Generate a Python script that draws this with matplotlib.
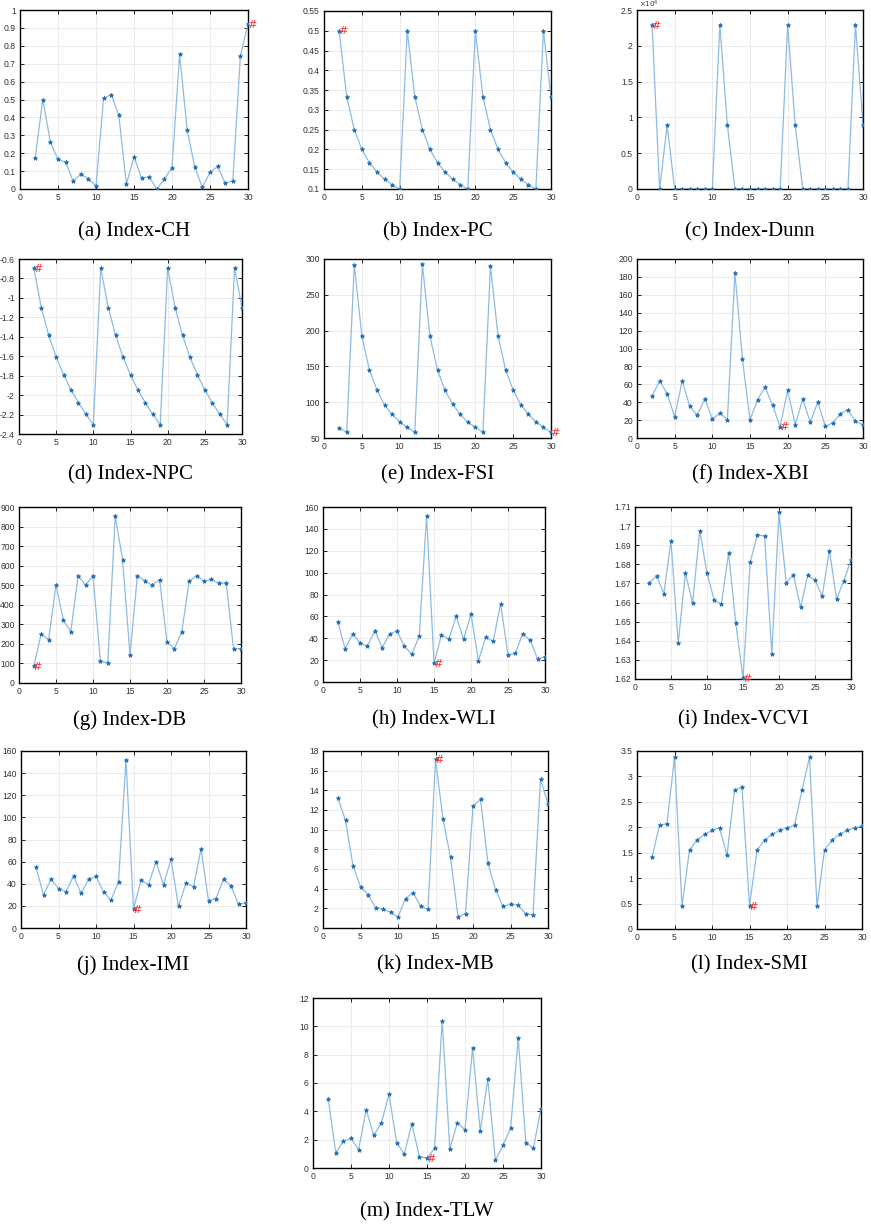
import numpy as np
import matplotlib.pyplot as plt

# number of clusters (x axis)
k = list(range(2, 31))

ch = [0.175, 0.50, 0.26, 0.165, 0.15, 0.045, 0.083, 0.057, 0.017, 0.507, 0.527, 0.414, 0.027, 0.18,
      0.061, 0.068, 0.0, 0.057, 0.119, 0.753, 0.329, 0.121, 0.009, 0.093, 0.126, 0.033, 0.045, 0.744, 0.922]
pc = [0.5, 0.3333, 0.25, 0.2, 0.1667, 0.1429, 0.125, 0.1111, 0.1,
      0.5, 0.3333, 0.25, 0.2, 0.1667, 0.1429, 0.125, 0.1111, 0.1,
      0.5, 0.3333, 0.25, 0.2, 0.1667, 0.1429, 0.125, 0.1111, 0.1,
      0.5, 0.3333]
dunn = [22900, 0, 8900, 0, 0, 0, 0, 0, 0, 22900, 8900, 0, 0, 0, 0, 0, 0, 0,
        22900, 8900, 0, 0, 0, 0, 0, 0, 0, 22900, 8900]
npc = [-0.693, -1.099, -1.386, -1.609, -1.792, -1.946, -2.079, -2.197, -2.303,
       -0.693, -1.099, -1.386, -1.609, -1.792, -1.946, -2.079, -2.197, -2.303,
       -0.693, -1.099, -1.386, -1.609, -1.792, -1.946, -2.079, -2.197, -2.303,
       -0.693, -1.099]
fsi = [64, 58, 292, 193, 145, 117, 96, 83, 72.5, 65, 58, 293, 192, 145, 116.5, 97.5, 83, 72, 65, 58,
       290, 192.5, 145, 117, 96.5, 83.5, 72.5, 65, 58]
xbi = [46.9, 63.7, 49.5, 23.8, 64, 35.4, 25.3, 44, 21.2, 27.9, 20.5, 184.4, 87.9, 20.1, 42.8, 57, 36.5,
       12.7, 53.3, 14.9, 43.2, 17.5, 40.2, 13, 17.1, 27.2, 31.7, 18.6, 14.9]
db = [87, 251, 221, 500, 320, 263, 549, 500, 549, 111, 104, 852, 630, 144, 549, 522, 500, 529, 210, 175,
      263, 520, 549, 520, 530, 510, 510, 173, 176]
wli = [55, 30, 44, 35.7, 32.9, 46.9, 31.4, 43.9, 46.6, 32.6, 25.3, 41.8, 152, 17, 43, 39.3, 60, 39,
       62.2, 19.5, 40.8, 37.2, 71.6, 24.7, 26.5, 44.2, 38.1, 21.3, 22.9]
vcvi = [1.6704, 1.6738, 1.6647, 1.6921, 1.6387, 1.6753, 1.6599, 1.6977, 1.6753, 1.6613, 1.6592, 1.6860,
        1.6491, 1.6205, 1.6811, 1.6955, 1.6948, 1.6331, 1.7072, 1.6704, 1.6745, 1.6575, 1.6743, 1.6717,
        1.6634, 1.6872, 1.6618, 1.6713, 1.6822]
imi = [54.7, 30, 44, 35.7, 32.9, 46.9, 31.4, 43.9, 46.6, 32.6, 25.3, 41.8, 152, 17, 43, 39.3, 60, 39,
       62.2, 19.5, 40.8, 37.2, 71.6, 24.7, 26.5, 44.2, 38.1, 21.3, 22.9]
mb = [13.18, 10.97, 6.32, 4.21, 3.40, 2.07, 1.94, 1.60, 1.12, 2.99, 3.60, 2.24, 1.90, 17.15, 11.11, 7.17,
      1.15, 1.46, 12.40, 13.08, 6.59, 3.91, 2.21, 2.41, 2.34, 1.46, 1.32, 15.12, 12.64]
smi = [1.41, 2.04, 2.07, 3.38, 0.45, 1.55, 1.75, 1.86, 1.94, 1.99, 1.45, 2.73, 2.79, 0.45, 1.55, 1.75,
       1.86, 1.94, 1.99, 2.04, 2.73, 3.38, 0.45, 1.55, 1.75, 1.86, 1.94, 1.99, 2.02]
tlw = [4.87, 1.06, 1.9, 2.1, 1.3, 4.1, 2.3, 3.2, 5.2, 1.8, 1.0, 3.1, 0.8, 0.7, 1.4, 10.4, 1.35, 3.2,
       2.7, 8.5, 2.6, 6.3, 0.55, 1.6, 2.8, 9.2, 1.8, 1.4, 4.2]

captions = ["(a) Index-CH", "(b) Index-PC", "(c) Index-Dunn", "(d) Index-NPC", "(e) Index-FSI",
            "(f) Index-XBI", "(g) Index-DB", "(h) Index-WLI", "(i) Index-VCVI", "(j) Index-IMI",
            "(k) Index-MB", "(l) Index-SMI", "(m) Index-TLW"]
series = [ch, pc, dunn, npc, fsi, xbi, db, wli, vcvi, imi, mb, smi, tlw]
best_k = [30, 2, 2, 2, 30, 19, 2, 15, 15, 15, 15, 15, 15]
ylims = [(0, 1), (0.1, 0.55), (0, 25000), (-2.4, -0.6), (50, 300), (0, 200), (0, 900), (0, 160),
         (1.62, 1.71), (0, 160), (0, 18), (0, 3.5), (0, 12)]
ysteps = [0.1, 0.05, 5000, 0.2, 50, 20, 100, 20, 0.01, 20, 2, 0.5, 2]

# axes boxes in pixels: left, top, right, bottom
boxes = [(20, 10, 248, 189), (324, 11, 551, 189), (637, 10, 863, 189),
         (19, 259, 242, 434), (324, 259, 551, 438), (637, 259, 863, 438),
         (19, 507, 241, 683), (323, 507, 545, 682), (635, 507, 851, 679),
         (21, 751, 246, 928), (323, 751, 548, 928), (637, 751, 862, 929),
         (313, 998, 541, 1168)]
cap_y = [232, 232, 232, 475, 475, 475, 720, 720, 720, 965, 965, 965, 1212]

W, H = 871, 1224
fig = plt.figure(figsize=(W / 100, H / 100), dpi=100)

for i in range(13):
    l, t, r, b = boxes[i]
    ax = fig.add_axes([l / W, 1 - b / H, (r - l) / W, (b - t) / H])
    y = series[i]
    ax.plot(k, y, "-", color="#8dbbe3", lw=0.9, zorder=2)
    ax.plot(k, y, "*", color="#1f6fb8", ms=3.2, mew=0.6, zorder=3)
    yb = y[k.index(best_k[i])]
    ax.annotate("#", (best_k[i], yb), xytext=(2.5, -0.5), textcoords="offset points",
                ha="center", va="center", color="#ff2a2a", fontsize=8, zorder=4)
    ax.set_xlim(0, 30)
    ax.set_xticks(range(0, 31, 5))
    lo, hi = ylims[i]
    ax.set_ylim(lo, hi)
    ax.set_yticks(np.arange(lo, hi + ysteps[i] / 2, ysteps[i]))
    ax.grid(True, color="#e8e8e8", lw=0.6)
    ax.set_axisbelow(True)
    ax.tick_params(direction="in", top=True, right=True, length=3, width=0.6,
                   labelsize=6.2, labelcolor="#333333", pad=3)
    for lab in ax.get_xticklabels() + ax.get_yticklabels():
        lab.set_family("Liberation Sans")
    for s in ax.spines.values():
        s.set_linewidth(1.0)
    if i == 2:
        ax.yaxis.set_major_formatter(plt.FuncFormatter(lambda v, p: "%g" % round(v / 1e4, 4)))
        fig.text((l + 2) / W, 1 - (t - 6) / H, r"$\times10^{4}$", ha="left", va="center",
                 fontsize=5, color="#333333")
    else:
        ax.yaxis.set_major_formatter(plt.FuncFormatter(lambda v, p: "%g" % round(v, 4)))
    cx = (l + r) / 2 / W
    fig.text(cx, 1 - cap_y[i] / H, captions[i], ha="center", va="center",
             family="Liberation Serif", fontsize=15)

fig.savefig("out.png", dpi=100)
